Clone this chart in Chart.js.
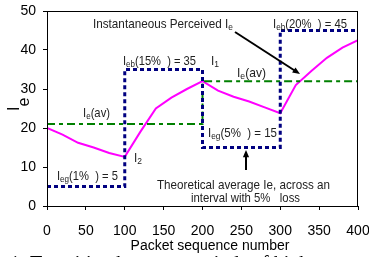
<!DOCTYPE html>
<html><head><meta charset="utf-8">
<script src="https://cdn.jsdelivr.net/npm/chart.js@4.4.0/dist/chart.umd.min.js"></script>
<style>html,body{margin:0;padding:0;background:#fff}#wrap{width:369px;height:257px}</style>
</head><body><div id="wrap"><canvas id="c"></canvas></div>
<script>
const PINK = '#FF00FF';
const GREEN = '#008000';
const NAVY = '#000080';
const INK = '#222';
const SANS = '"Liberation Sans", Arial, sans-serif';

// instantaneous perceived Ie
const seqX   = [0, 20, 40, 60, 80, 100, 120, 140, 160, 180, 200, 220, 240, 260, 280, 300, 320, 340, 360, 380, 400];
const ieInst = [20, 18.3, 16.2, 15, 13.6, 12.6, 19, 25, 27.8, 30, 32, 29.6, 28, 26.8, 25.3, 23.8, 31, 34.6, 38, 40.6, 42.5];
// Ie(av)
const avgX  = [0, 200, 200, 400];
const ieAvg = [21, 21, 32, 32];
// Ieg / Ieb steps
const boxX  = [0, 100, 100, 200, 200, 300, 300, 400];
const ieBox = [5, 5, 35, 35, 15, 15, 45, 45];

const pts = (xs, ys) => xs.map((x, i) => ({ x, y: ys[i] }));

// condensed text with subscripts, squeezed to width w
function runs(ctx, x, y, w, parts, size) {
  const fnt = sub => (sub ? size * 0.72 : size) + 'px ' + SANS;
  let total = 0;
  parts.forEach(([t, sub]) => { ctx.font = fnt(sub); total += ctx.measureText(t).width; });
  ctx.save();
  ctx.translate(x, y); ctx.scale(w / total, 1);
  let cx = 0;
  parts.forEach(([t, sub]) => {
    ctx.font = fnt(sub);
    ctx.fillText(t, cx, sub ? 2 : 0);
    cx += ctx.measureText(t).width;
  });
  ctx.restore();
}

function arrow(ctx, x1, y1, x2, y2) {
  const a = Math.atan2(y2 - y1, x2 - x1), h = 8;
  ctx.strokeStyle = '#000'; ctx.fillStyle = '#000'; ctx.lineWidth = 2;
  ctx.beginPath();
  ctx.moveTo(x1, y1);
  ctx.lineTo(x2 - h * 0.8 * Math.cos(a), y2 - h * 0.8 * Math.sin(a));
  ctx.stroke();
  ctx.beginPath();
  ctx.moveTo(x2, y2);
  ctx.lineTo(x2 - h * Math.cos(a - 0.4), y2 - h * Math.sin(a - 0.4));
  ctx.lineTo(x2 - h * Math.cos(a + 0.4), y2 - h * Math.sin(a + 0.4));
  ctx.closePath(); ctx.fill();
}

const notes = {
  id: 'notes',
  afterDraw(chart) {
    const ctx = chart.ctx, ca = chart.chartArea;
    ctx.save();
    // frame
    ctx.strokeStyle = '#000'; ctx.lineWidth = 1;
    ctx.strokeRect(ca.left + 0.5, ca.top + 0.5, ca.right - ca.left - 1, ca.bottom - ca.top);

    ctx.fillStyle = INK; ctx.textBaseline = 'alphabetic'; ctx.textAlign = 'left';
    const s = 13.5;
    runs(ctx, 93, 28, 140, [['Instantaneous Perceived I'], ['e', 1]], s);
    runs(ctx, 273, 28, 74, [['I'], ['eb', 1], ['(20%  ) = 45']], s);
    runs(ctx, 123, 65, 73, [['I'], ['eb', 1], ['(15%  ) = 35']], s);
    runs(ctx, 211, 65, 8, [['I'], ['1', 1]], s);
    runs(ctx, 83, 117, 27, [['I'], ['e', 1], ['(av)']], s);
    runs(ctx, 237, 77, 29, [['I'], ['e', 1], ['(av)']], s);
    runs(ctx, 134, 162, 8, [['I'], ['2', 1]], s);
    runs(ctx, 57, 180, 61, [['I'], ['eg', 1], ['(1%  ) = 5']], s);
    runs(ctx, 208, 137, 69, [['I'], ['eg', 1], ['(5%  ) = 15']], s);
    runs(ctx, 157, 189, 173, [['Theoretical average Ie, across an']], s);
    runs(ctx, 191, 202, 109, [['interval with 5%   loss']], s);

    arrow(ctx, 235, 32, 300, 74);
    arrow(ctx, 246, 170, 246, 150);

    // axis titles
    ctx.fillStyle = '#000';
    ctx.font = '14px ' + SANS; ctx.textAlign = 'center';
    ctx.fillText('Packet sequence number', 210, 250);
    ctx.save();
    ctx.translate(19, 111); ctx.rotate(-Math.PI / 2); ctx.textAlign = 'left';
    ctx.font = '16px ' + SANS;
    ctx.fillText('I', 0, 0);
    ctx.fillText('e', ctx.measureText('I').width, 10);
    ctx.restore();

    // caption, mostly cut off below
    ctx.font = '20px "Liberation Serif", serif'; ctx.textAlign = 'left';
    ctx.fillText('1. Transition between periods of high', 10, 270);
    ctx.restore();
  }
};

new Chart('c', {
  type: 'line',
  data: {
    datasets: [
      { data: pts(boxX, ieBox), borderColor: NAVY, borderWidth: 3, borderDash: [4, 3], pointRadius: 0, fill: false },
      { data: pts(avgX, ieAvg), borderColor: GREEN, borderWidth: 2, borderDash: [8, 4, 4, 4], pointRadius: 0, fill: false },
      { data: pts(seqX, ieInst), borderColor: PINK, borderWidth: 2, pointRadius: 0, fill: false, tension: 0 }
    ]
  },
  options: {
    responsive: true,
    maintainAspectRatio: false,
    animation: false,
    layout: { padding: { top: 11, right: 11, left: 0, bottom: 0 } },
    plugins: { legend: { display: false }, tooltip: { enabled: false } },
    scales: {
      x: {
        type: 'linear', min: 0, max: 400,
        ticks: { stepSize: 50, color: '#000', font: { size: 14, family: SANS }, padding: 13, maxRotation: 0 },
        grid: { drawOnChartArea: false, tickLength: 4, color: '#000' },
        border: { color: '#000' },
        afterFit: s => { s.height = 51; s.paddingLeft = 0; s.paddingRight = 0; }
      },
      y: {
        min: 0, max: 50,
        ticks: { stepSize: 10, color: '#000', font: { size: 14, family: SANS }, padding: 7 },
        grid: { drawOnChartArea: false, tickLength: 4, color: '#000' },
        border: { color: '#000' },
        afterFit: s => { s.width = 47; s.paddingTop = 0; s.paddingBottom = 0; }
      }
    }
  },
  plugins: [notes]
});
</script>
</body></html>
